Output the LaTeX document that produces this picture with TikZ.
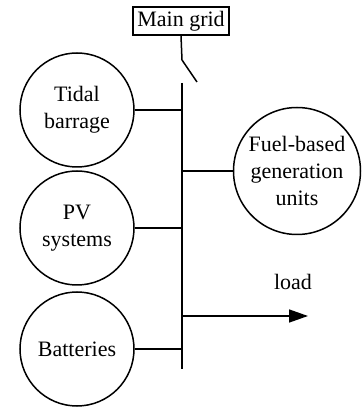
\documentclass[tikz,border=0pt]{standalone}
\usepackage{fontspec}
\setmainfont{Liberation Serif}
\usepackage{tikz}
\usetikzlibrary{positioning,shapes,arrows.meta,calc}

\begin{document}
\begin{tikzpicture}[x=1pt, y=1pt, line width=1.5pt,
    unit/.style={draw, circle, minimum size=114pt, inner sep=0pt, align=center, font=\fontsize{22}{27}\selectfont},
    gridbox/.style={draw, rectangle, minimum width=96pt, minimum height=28pt, inner sep=2pt, font=\fontsize{22}{27}\selectfont}]
    \useasboundingbox (0,0) rectangle (362,407);

    % main grid and switch
    \node[gridbox] (grid) at (181,386) {Main grid};
    \coordinate (sw1) at (182,347);
    \coordinate (sw2) at (197,325);
    \coordinate (bustop) at (182,324);
    \coordinate (busbot) at (182,38);
    \draw (grid.south) -- (sw1) -- (sw2);
    \draw (bustop) -- (busbot);

    % sources
    \node[unit] (tidal) at (77,297) {Tidal\\barrage};
    \node[unit] (pv) at (77,179) {PV\\systems};
    \node[unit] (batt) at (77,58) {Batteries};
    \node[unit, minimum size=127pt] (fuel) at (297,236) {Fuel-based\\generation\\units};

    \draw (tidal.east) -- (tidal.east -| bustop);
    \draw (pv.east) -- (pv.east -| bustop);
    \draw (batt.east) -- (batt.east -| bustop);
    \draw (fuel.west) -- (fuel.west -| bustop);

    % load
    \coordinate (loadend) at (308,91);
    \draw[-{Triangle[length=19pt,width=13pt]}] (loadend -| bustop) -- (loadend);
    \node[font=\fontsize{22}{27}\selectfont] (load) at (293,125) {load};
\end{tikzpicture}
\end{document}
